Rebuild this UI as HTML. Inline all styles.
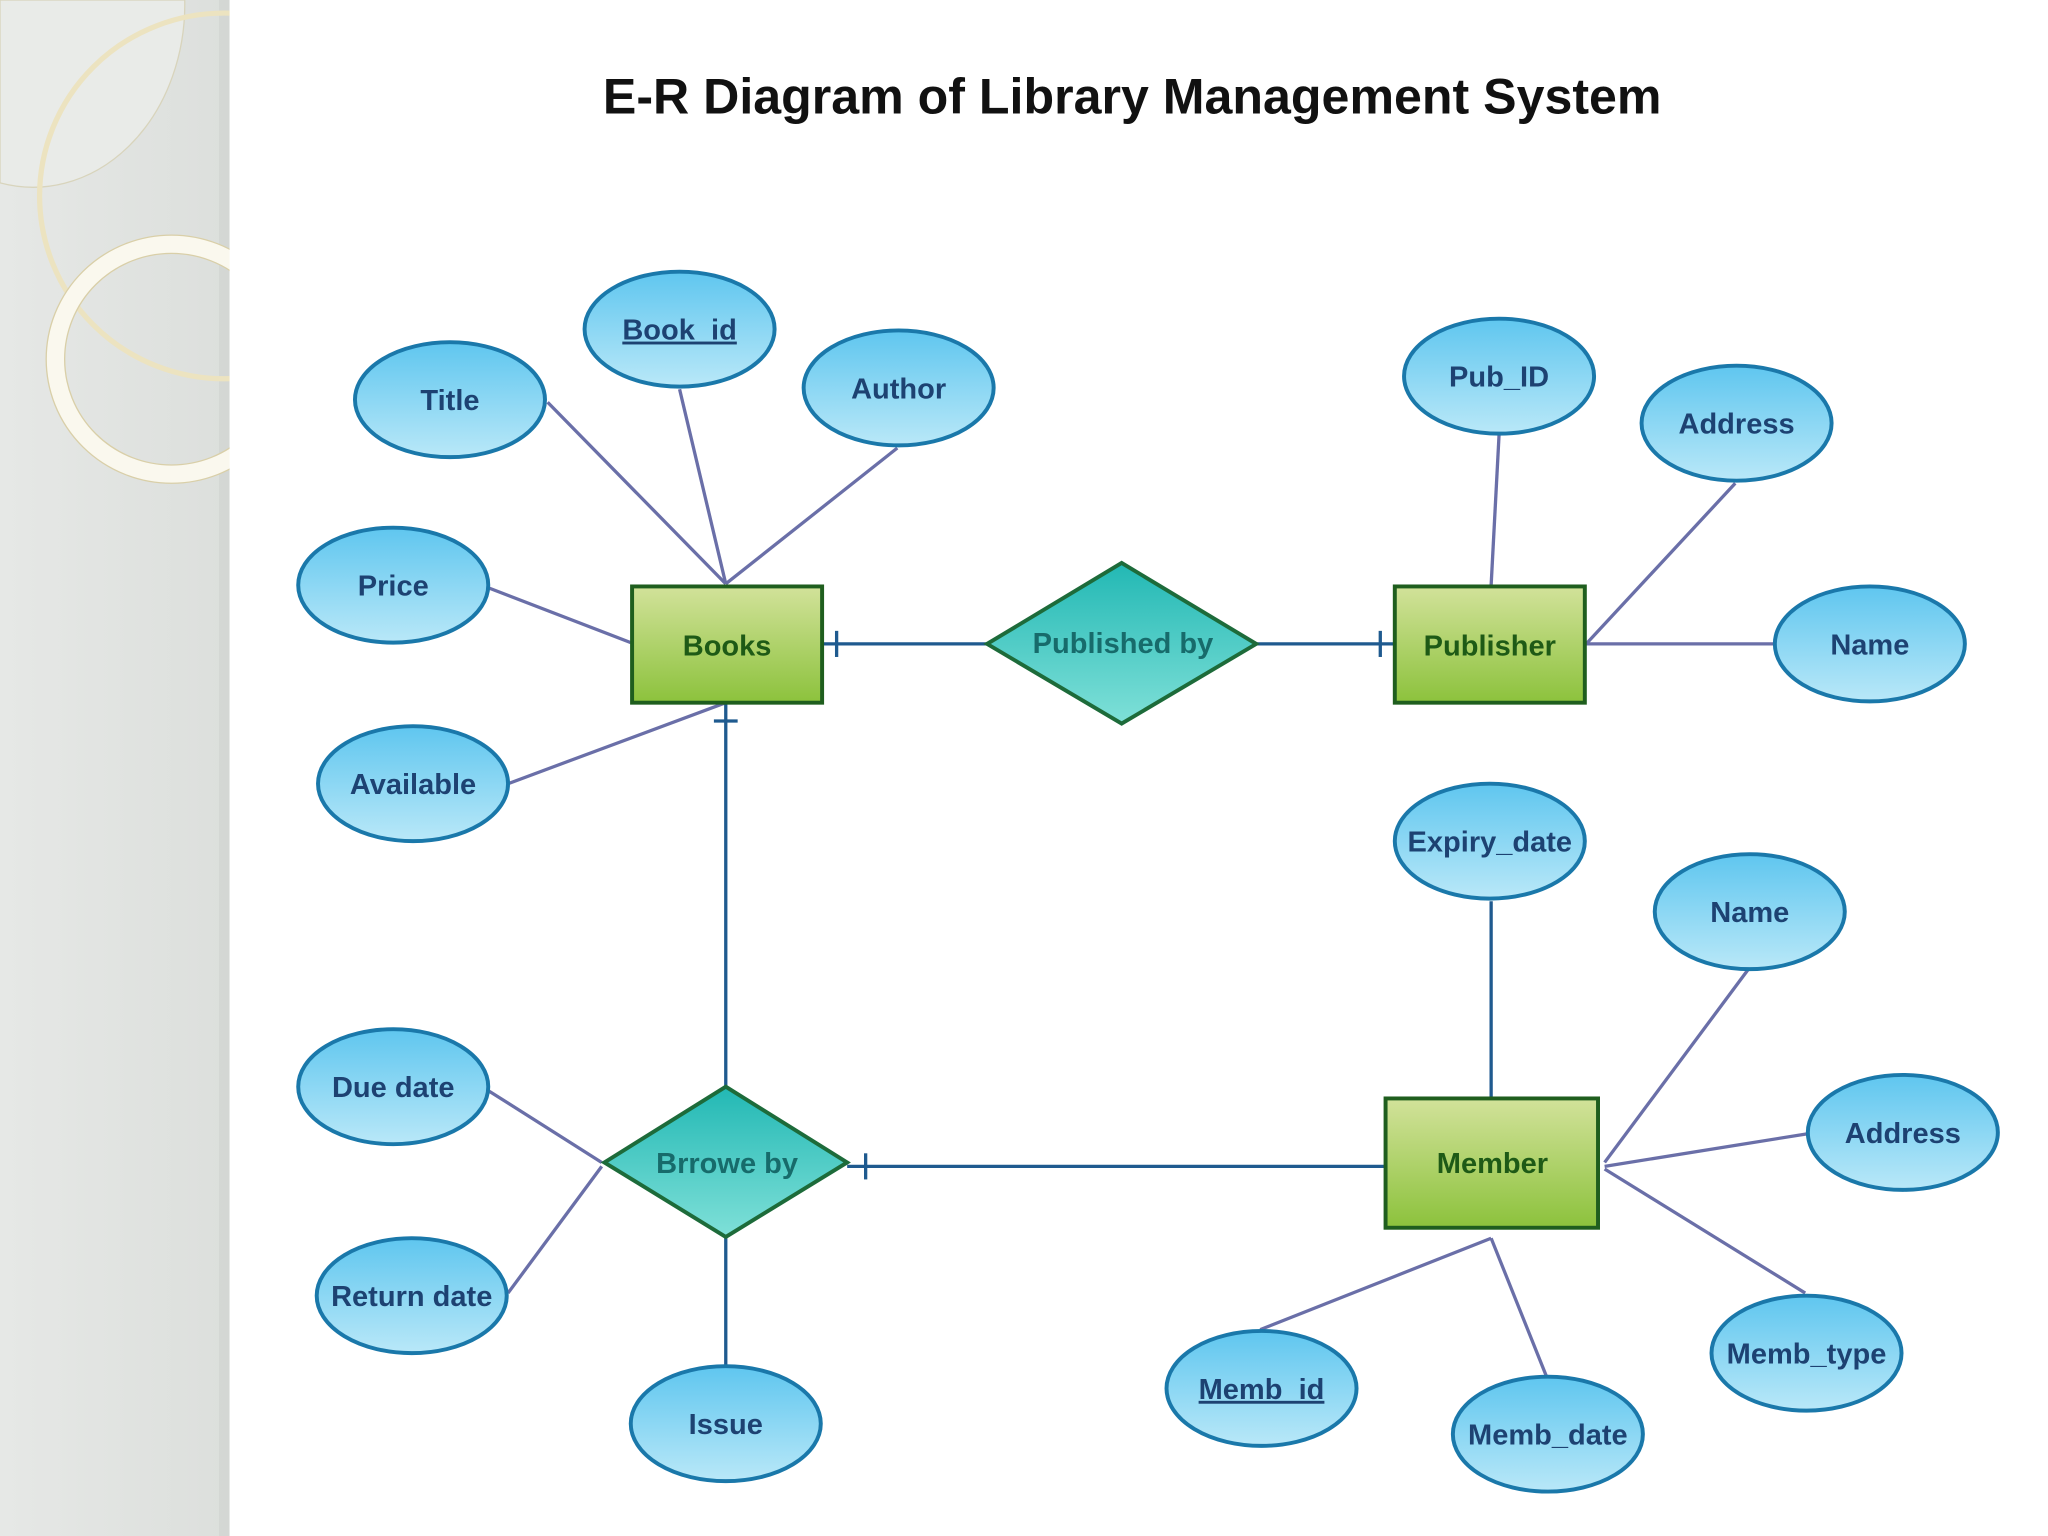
<!DOCTYPE html>
<html><head><meta charset="utf-8"><style>
html,body{margin:0;padding:0;width:2048px;height:1536px;overflow:hidden;background:#fff}
svg{display:block}
.a{font-family:"Liberation Sans",sans-serif;font-weight:bold;font-size:22px;fill:#1d4272;text-anchor:middle}
.e{font-family:"Liberation Sans",sans-serif;font-weight:bold;font-size:22px;fill:#1e5a16;text-anchor:middle}
.r{font-family:"Liberation Sans",sans-serif;font-weight:bold;font-size:22px;fill:#176b6b;text-anchor:middle}
</style></head><body>
<svg width="2048" height="1536" viewBox="0 0 1552 1176" preserveAspectRatio="none" xmlns="http://www.w3.org/2000/svg">
<defs>
<linearGradient id="ell" x1="0" y1="0" x2="0" y2="1"><stop offset="0" stop-color="#5fc6ef"/><stop offset="1" stop-color="#b9e8f8"/></linearGradient>
<linearGradient id="ent" x1="0" y1="0" x2="0" y2="1"><stop offset="0" stop-color="#d2e29a"/><stop offset="1" stop-color="#8cc23c"/></linearGradient>
<linearGradient id="rel" x1="0" y1="0" x2="0" y2="1"><stop offset="0" stop-color="#22b8b4"/><stop offset="1" stop-color="#7fe0d8"/></linearGradient>
<linearGradient id="side" x1="0" y1="0" x2="1" y2="0"><stop offset="0" stop-color="#e6e8e6"/><stop offset="1" stop-color="#dcdfdc"/></linearGradient>
</defs>
<rect x="0" y="0" width="174" height="1176" fill="url(#side)"/>
<rect x="166" y="0" width="8" height="1176" fill="#cfd2cf" opacity="0.6"/>
<path d="M0 0 H140 V0 A115 140 0 0 1 0 140 Z" fill="#e9ebe8" stroke="#d8d4bc" stroke-width="1"/>
<circle cx="170" cy="150" r="140" fill="none" stroke="#ece3c0" stroke-width="4"/>
<circle cx="130" cy="275" r="88" fill="none" stroke="#faf8ee" stroke-width="14"/>
<circle cx="130" cy="275" r="95" fill="none" stroke="#d9cfa8" stroke-width="1"/>
<circle cx="130" cy="275" r="81" fill="none" stroke="#d9cfa8" stroke-width="1"/>
<rect x="174" y="0" width="1378" height="1176" fill="#fff"/>
<text x="858" y="87" font-family="Liberation Sans,sans-serif" font-weight="bold" font-size="38" text-anchor="middle" fill="#111">E-R Diagram of Library Management System</text>

<g stroke="#6a6fa8" stroke-width="2.5" fill="none">
<line x1="415" y1="308" x2="550" y2="447"/>
<line x1="515" y1="298" x2="550" y2="447"/>
<line x1="680" y1="343" x2="550" y2="447"/>
<line x1="370" y1="450" x2="478" y2="492"/>
<line x1="385" y1="600" x2="550" y2="538"/>
<line x1="1136" y1="333" x2="1130" y2="448"/>
<line x1="1315" y1="370" x2="1202" y2="493"/>
<line x1="1202" y1="493" x2="1345" y2="493"/>
<line x1="1325" y1="742" x2="1216" y2="890"/>
<line x1="1370" y1="868" x2="1216" y2="893"/>
<line x1="1368" y1="990" x2="1216" y2="895"/>
<line x1="955" y1="1018" x2="1130" y2="948"/>
<line x1="1130" y1="948" x2="1172" y2="1054"/>
<line x1="370" y1="835" x2="456" y2="890"/>
<line x1="385" y1="990" x2="456" y2="893"/>
</g>
<g stroke="#1f5a8f" stroke-width="2.5" fill="none">
<line x1="624" y1="493" x2="748" y2="493"/>
<line x1="634" y1="483" x2="634" y2="503"/>
<line x1="952" y1="493" x2="1057" y2="493"/>
<line x1="1046" y1="483" x2="1046" y2="503"/>
<line x1="550" y1="538" x2="550" y2="832"/>
<line x1="541" y1="552" x2="559" y2="552"/>
<line x1="642" y1="893" x2="1050" y2="893"/>
<line x1="656" y1="883" x2="656" y2="903"/>
<line x1="1130" y1="690" x2="1130" y2="840"/>
<line x1="550" y1="947" x2="550" y2="1045"/>
</g>

<g stroke="#1a78aa" stroke-width="3" fill="url(#ell)">
<ellipse cx="341" cy="306" rx="72" ry="44"/>
<ellipse cx="515" cy="252" rx="72" ry="44"/>
<ellipse cx="681" cy="297" rx="72" ry="44"/>
<ellipse cx="298" cy="448" rx="72" ry="44"/>
<ellipse cx="313" cy="600" rx="72" ry="44"/>
<ellipse cx="1136" cy="288" rx="72" ry="44"/>
<ellipse cx="1316" cy="324" rx="72" ry="44"/>
<ellipse cx="1417" cy="493" rx="72" ry="44"/>
<ellipse cx="1129" cy="644" rx="72" ry="44"/>
<ellipse cx="1326" cy="698" rx="72" ry="44"/>
<ellipse cx="1442" cy="867" rx="72" ry="44"/>
<ellipse cx="1369" cy="1036" rx="72" ry="44"/>
<ellipse cx="1173" cy="1098" rx="72" ry="44"/>
<ellipse cx="956" cy="1063" rx="72" ry="44"/>
<ellipse cx="298" cy="832" rx="72" ry="44"/>
<ellipse cx="312" cy="992" rx="72" ry="44"/>
<ellipse cx="550" cy="1090" rx="72" ry="44"/>
</g>
<g stroke="#1f5e1e" stroke-width="3" fill="url(#ent)">
<rect x="479" y="449" width="144" height="89"/>
<rect x="1057" y="449" width="144" height="89"/>
<rect x="1050" y="841" width="161" height="99"/>
</g>
<g stroke="#1d6b3a" stroke-width="3" fill="url(#rel)">
<polygon points="850,431 952,493 850,554 748,493"/>
<polygon points="550,832 642,890 550,947 458,890"/>
</g>

<g class="a">
<text x="341" y="314">Title</text>
<text x="515" y="260" text-decoration="underline">Book_id</text>
<text x="681" y="305">Author</text>
<text x="298" y="456">Price</text>
<text x="313" y="608">Available</text>
<text x="1136" y="296">Pub_ID</text>
<text x="1316" y="332">Address</text>
<text x="1417" y="501">Name</text>
<text x="1129" y="652">Expiry_date</text>
<text x="1326" y="706">Name</text>
<text x="1442" y="875">Address</text>
<text x="1369" y="1044">Memb_type</text>
<text x="1173" y="1106">Memb_date</text>
<text x="956" y="1071" text-decoration="underline">Memb_id</text>
<text x="298" y="840">Due date</text>
<text x="312" y="1000">Return date</text>
<text x="550" y="1098">Issue</text>
</g>
<g class="e">
<text x="551" y="502">Books</text>
<text x="1129" y="502">Publisher</text>
<text x="1131" y="898">Member</text>
</g>
<g class="r">
<text x="851" y="500">Published by</text>
<text x="551" y="898">Brrowe by</text>
</g>
</svg>
</body></html>
